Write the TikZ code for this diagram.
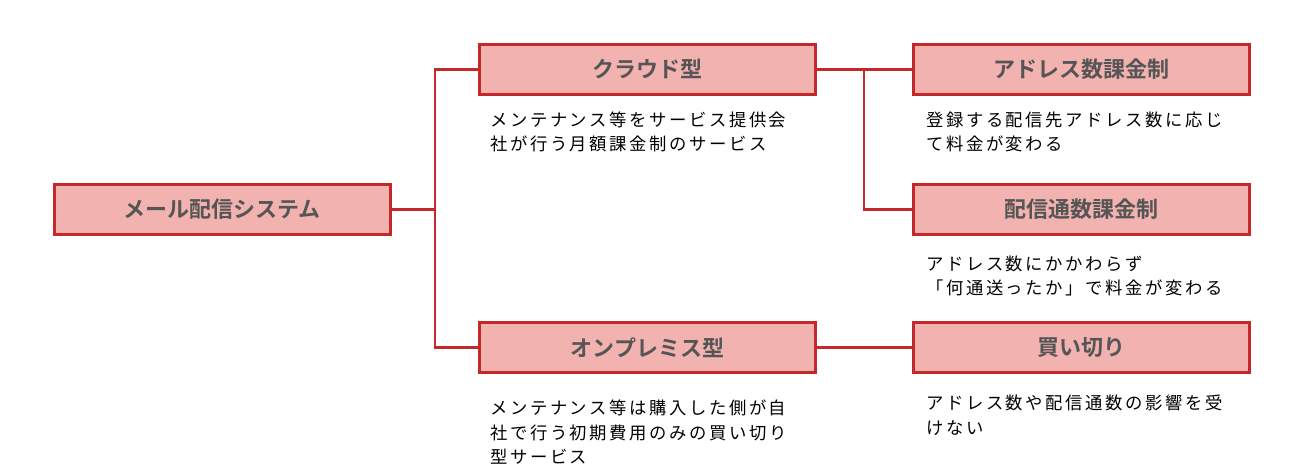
\documentclass[tikz,border=0pt]{standalone}
\usepackage{fontspec}
\usetikzlibrary{positioning, calc}
\newfontfamily\jpbold{Noto Sans CJK JP Bold}
\newfontfamily\jpdesc[LetterSpace=15]{Noto Sans CJK JP}
\definecolor{boxred}{HTML}{C4282B}
\definecolor{boxfill}{HTML}{F2B2B0}
\definecolor{boxtext}{HTML}{555555}

\begin{document}
\begin{tikzpicture}[x=0.75pt, y=-0.75pt,
    catbox/.style={draw=boxred, fill=boxfill, line width=2.25pt,
      minimum width=252pt, minimum height=37.5pt, inner sep=0pt,
      text=boxtext, font=\jpbold\fontsize{16.5}{18}\selectfont},
    desc/.style={anchor=base west, align=left, inner sep=0pt,
      font=\jpdesc\fontsize{13}{18}\selectfont},
    link/.style={draw=boxred, line width=1.6pt}]
  % Page frame
  \useasboundingbox (0,0) rectangle (1299,466);

  % Boxes
  \node[catbox] (root) at (222,209.5) {メール配信システム};
  \foreach \name/\px/\py/\txt in {cloud/647.5/69.5/クラウド型,
      onprem/647.5/347.5/オンプレミス型,
      addr/1081.5/69.5/アドレス数課金制,
      deliv/1081.5/209.5/配信通数課金制,
      buyout/1081.5/347.5/買い切り} {
    \node[catbox] (\name) at (\px,\py) {\txt};
  }

  % Descriptions (anchored at the last line)
  \node[desc] (clouddesc) at (490,151) {メンテナンス等をサービス提供会\\社が行う月額課金制のサービス};
  \node[desc] (onpremdesc) at (490,463) {メンテナンス等は購入した側が自\\社で行う初期費用のみの買い切り\\型サービス};
  \node[desc] (addrdesc) at (926,151) {登録する配信先アドレス数に応じ\\て料金が変わる};
  \node[desc] (delivdesc) at (926,295) {アドレス数にかかわらず\\「何通送ったか」で料金が変わる};
  \node[desc] (buyoutdesc) at (926,434) {アドレス数や配信通数の影響を受\\けない};

  % Junctions
  \coordinate (J1) at (435,209.5);
  \coordinate (J2) at (864,69.5);

  % Connectors
  \draw[link] (root.east) -- (J1);
  \draw[link] (cloud.west) -| (J1);
  \draw[link] (onprem.west) -| (J1);
  \draw[link] (cloud.east) -- (addr.west);
  \draw[link] (deliv.west) -| (J2);
  \draw[link] (onprem.east) -- (buyout.west);
\end{tikzpicture}
\end{document}
